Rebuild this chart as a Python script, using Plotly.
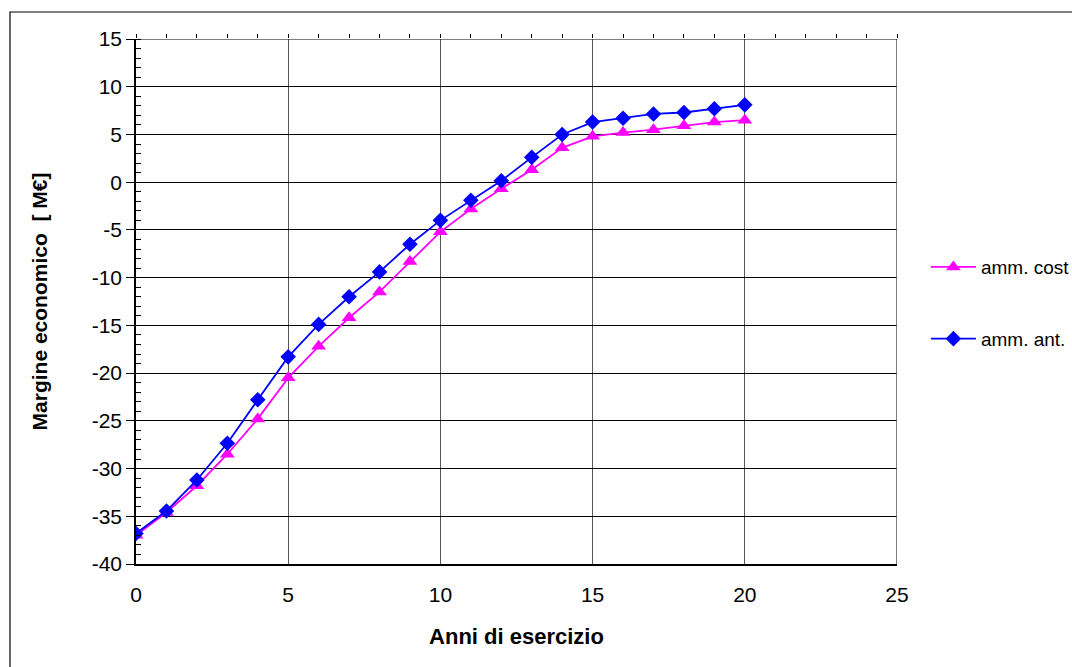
import plotly.graph_objects as go

years = list(range(0, 21))
amm_cost = [-37.0, -34.6, -31.8, -28.5, -24.8, -20.5, -17.2, -14.2, -11.5, -8.3, -5.2,
            -2.8, -0.7, 1.3, 3.6, 4.8, 5.2, 5.5, 5.9, 6.3, 6.5]
amm_ant = [-36.8, -34.45, -31.2, -27.35, -22.8, -18.3, -14.9, -12.0, -9.4, -6.5, -4.0,
           -1.9, 0.15, 2.6, 5.0, 6.3, 6.7, 7.15, 7.3, 7.7, 8.1]
y_ticks = list(range(-40, 16, 5))
y_ticktext = [str(v) for v in y_ticks]
x_ticks = [0, 5, 10, 15, 20, 25]

FONT = "Liberation Sans, Arial, sans-serif"

fig = go.Figure()
fig.add_trace(go.Scatter(
    x=years, y=amm_cost, name="amm. cost", mode="lines+markers",
    line=dict(color="#FF00FF", width=1.8),
    marker=dict(symbol="triangle-up", size=13, color="#FF00FF"),
    legendgroup="a"))
fig.add_trace(go.Scatter(
    x=years, y=amm_ant, name="amm. ant.", mode="lines+markers",
    line=dict(color="#0000FF", width=1.8),
    marker=dict(symbol="diamond", size=12, color="#0000FF"),
    legendgroup="b"))
# invisible trace for top minor ticks
fig.add_trace(go.Scatter(x=[0, 25], y=[15, 15], xaxis="x2", mode="lines",
                         line=dict(width=0), showlegend=False, hoverinfo="skip"))

fig.update_layout(
    width=1072, height=667,
    margin=dict(l=136, r=175, t=39, b=103, autoexpand=False),
    paper_bgcolor="white", plot_bgcolor="white",
    font=dict(family=FONT, color="black", size=21),
    xaxis=dict(range=[0, 25], tickvals=x_ticks,
               showgrid=True, gridcolor="#555555", gridwidth=1,
               zeroline=False, showline=True, linecolor="black", linewidth=1.5,
               ticks="", ticklabelstandoff=11, tickfont=dict(size=21),
               title=dict(text="<b>Anni di esercizio</b>", font=dict(size=22), standoff=24),
               mirror=False),
    xaxis2=dict(range=[0, 25], overlaying="x", side="top", showgrid=False,
                zeroline=False, showline=False, ticks="outside", ticklen=4,
                tickcolor="black", dtick=1, tick0=0, showticklabels=False),
    yaxis=dict(range=[-40, 15], tickvals=y_ticks, ticktext=y_ticktext,
               showgrid=True, gridcolor="black", gridwidth=1,
               zeroline=False, showline=True, linecolor="black", linewidth=1.5,
               ticks="outside", ticklen=8, tickcolor="black", tickfont=dict(size=21),
               minor=dict(dtick=1, ticks="inside", ticklen=5, tickcolor="black", showgrid=False),
               title=dict(text="<b>Margine economico  [ M€]</b>", font=dict(size=21), standoff=38)),
    legend=dict(x=1.038, y=0.497, xanchor="left", yanchor="middle", itemwidth=45,
                font=dict(size=19), tracegroupgap=44, bgcolor="rgba(0,0,0,0)"),
    shapes=[
        dict(type="line", xref="x", yref="y", x0=25, x1=25, y0=-40, y1=15,
             line=dict(color="#555555", width=1.5)),
        dict(type="line", xref="x", yref="y", x0=0, x1=25, y0=15, y1=15,
             line=dict(color="black", width=1.2)),
        dict(type="rect", xref="paper", yref="paper",
             x0=(10 - 136) / 761, x1=1.3, y0=-0.3, y1=(564 - 12) / 525,
             line=dict(color="black", width=1.2), fillcolor="rgba(0,0,0,0)", layer="below"),
    ],
)

fig.write_html("out.html")
